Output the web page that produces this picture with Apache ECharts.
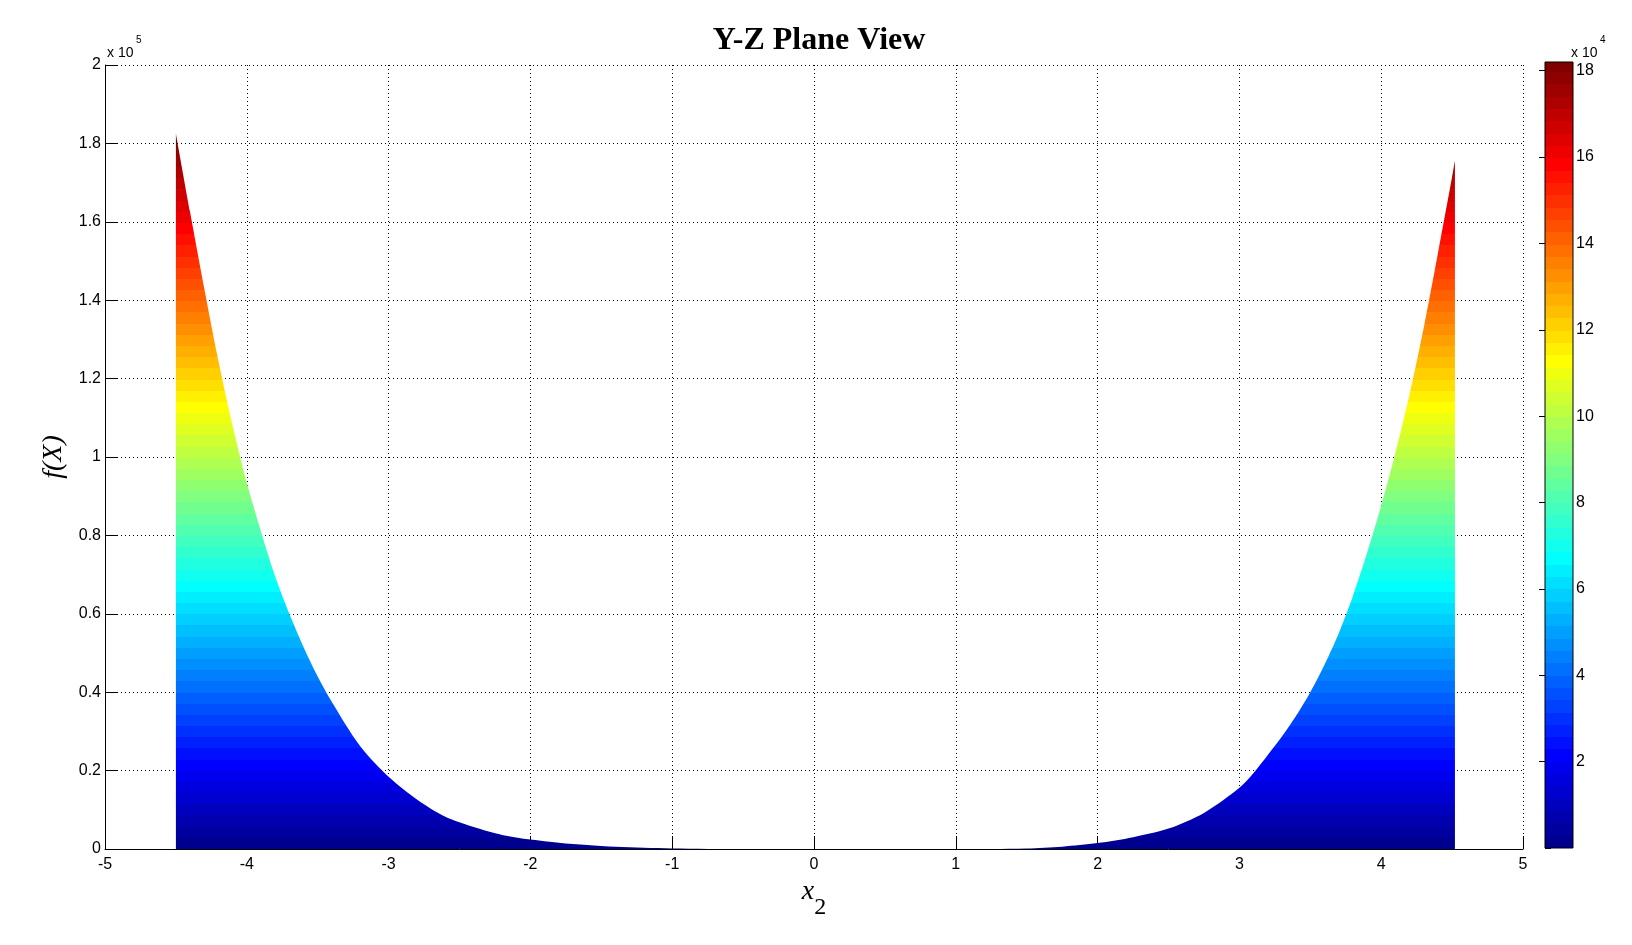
<!DOCTYPE html>
<html>
<head>
<meta charset="utf-8">
<title>Y-Z Plane View</title>
<script src="https://cdn.jsdelivr.net/npm/echarts@6/dist/echarts.min.js"></script>
<style>
  html, body { margin: 0; padding: 0; background: #fff; }
  #main { width: 1632px; height: 945px; }
</style>
</head>
<body>
<div id="main"></div>
<script>
// envelope of the surface seen edge-on (x2, f(X))
var x2 = [-4.5, -4.4, -4.3, -4.2, -4.1, -4.0, -3.9, -3.8, -3.7, -3.6,
          -3.5, -3.4, -3.2, -3.0, -2.8, -2.6, -2.4, -2.2, -2.0, -1.8,
          -1.6, -1.4, -1.2, -1.0, -0.5, 0, 0.5, 1.0,
          1.5, 1.75, 2.0, 2.25, 2.5, 2.75, 3.0, 3.1, 3.2, 3.3,
          3.4, 3.5, 3.6, 3.7, 3.8, 3.9, 4.0, 4.1, 4.2, 4.3,
          4.4, 4.5, 4.52];
var fX = [182500, 162500, 143000, 124500, 108000, 93400, 81000, 69500, 60000, 51500,
          44000, 37500, 26200, 18400, 12600, 8200, 5600, 3600, 2400, 1600,
          1000, 550, 300, 150, 0, 0, 0, 0,
          150, 600, 1500, 3000, 5200, 9200, 15600, 19400, 24000, 28700,
          34000, 40000, 47000, 55000, 64500, 75500, 87600, 101000, 116000, 133000,
          152000, 171500, 175600];

// colour axis range (MATLAB caxis) and colorbar extent
var cMin = 0;
var cMax = 182500;
var barMax = 182000;

// MATLAB jet(64) colormap
function jetColors(m) {
    var n = Math.ceil(m / 4);
    var u = [];
    var k;
    for (k = 1; k <= n; k++) u.push(k / n);
    for (k = 1; k < n; k++) u.push(1);
    for (k = n; k >= 1; k--) u.push(k / n);
    var gOff = Math.ceil(n / 2) - (m % 4 === 1 ? 1 : 0);
    var rgb = [];
    for (k = 0; k < m; k++) rgb.push([0, 0, 0]);
    for (k = 0; k < u.length; k++) {
        var g = gOff + k, r = g + n, b = g - n;
        if (g >= 0 && g < m) rgb[g][1] = u[k];
        if (r >= 0 && r < m) rgb[r][0] = u[k];
        if (b >= 0 && b < m) rgb[b][2] = u[k];
    }
    return rgb.map(function (c) {
        return 'rgb(' + c.map(function (v) { return Math.round(v * 255); }).join(',') + ')';
    });
}

var jet = jetColors(64);
var pieces = jet.map(function (c, i) {
    var w = (cMax - cMin) / jet.length;
    return { min: cMin + i * w, max: cMin + (i + 1) * w, color: c };
});

var chart = echarts.init(document.getElementById('main'));

var sans = 'Liberation Sans';
var serif = 'Liberation Serif';
var dotted = { color: '#000', width: 1, type: [1, 3] };

var option = {
    backgroundColor: '#fff',
    animation: false,
    title: {
        text: 'Y-Z Plane View',
        left: 814,
        top: 20,
        textAlign: 'center',
        textStyle: { fontFamily: serif, fontWeight: 'bold', fontSize: 32, color: '#000' }
    },
    grid: [
        { left: 105, right: 109, top: 65, bottom: 96 },
        { left: 1545, width: 28, top: 62, bottom: 97, show: true, borderColor: '#000', borderWidth: 1, z: 5 }
    ],
    visualMap: {
        type: 'piecewise',
        show: false,
        seriesIndex: [0, 1],
        dimension: 1,
        pieces: pieces,
        outOfRange: { color: jet[0] }
    },
    xAxis: [
        {
            type: 'value',
            gridIndex: 0,
            min: -5,
            max: 5,
            interval: 1,
            name: '{i|x}{s|2}',
            nameLocation: 'middle',
            nameGap: 12,
            nameTextStyle: {
                rich: {
                    i: { fontFamily: serif, fontStyle: 'italic', fontSize: 28, lineHeight: 56, color: '#000' },
                    s: { fontFamily: serif, fontSize: 24, lineHeight: 18, verticalAlign: 'bottom', color: '#000' }
                }
            },
            axisLine: { onZero: false, lineStyle: { color: '#000', width: 1 } },
            axisTick: { inside: true, length: 13, lineStyle: { color: '#000' } },
            axisLabel: { fontFamily: sans, fontSize: 16, color: '#000', margin: 8 },
            splitLine: { show: true, lineStyle: dotted }
        },
        {
            type: 'value',
            gridIndex: 1,
            min: 0,
            max: 1,
            show: false
        }
    ],
    yAxis: [
        {
            type: 'value',
            gridIndex: 0,
            min: 0,
            max: 200000,
            interval: 20000,
            name: 'f(X)',
            nameLocation: 'middle',
            nameGap: 30,
            nameTextStyle: { fontFamily: serif, fontStyle: 'italic', fontSize: 28, color: '#000' },
            axisLine: { show: true, onZero: false, lineStyle: { color: '#000', width: 1 } },
            axisTick: { show: true, inside: true, length: 13, lineStyle: { color: '#000' } },
            axisLabel: {
                fontFamily: sans, fontSize: 16, color: '#000', margin: 4,
                formatter: function (v) { return String(+(v / 1e5).toFixed(1)); }
            },
            splitLine: { show: true, lineStyle: dotted }
        },
        {
            type: 'value',
            gridIndex: 1,
            position: 'right',
            min: 0,
            max: barMax,
            interval: 20000,
            axisLine: { show: false },
            axisTick: { show: true, inside: true, length: 6, lineStyle: { color: '#000' } },
            axisLabel: {
                fontFamily: sans, fontSize: 16, color: '#000', margin: 3,
                showMinLabel: false, showMaxLabel: false,
                formatter: function (v) { return v === 0 ? '' : String(v / 1e4); }
            },
            splitLine: { show: false }
        },
        {
            type: 'value',
            gridIndex: 1,
            position: 'left',
            min: 0,
            max: barMax,
            interval: 20000,
            axisLine: { show: false },
            axisTick: { show: true, inside: true, length: 6, lineStyle: { color: '#000' } },
            axisLabel: { show: false },
            splitLine: { show: false }
        }
    ],
    graphic: [
        { type: 'text', x: 107, y: 53, style: { text: 'x 10', font: '14px ' + sans, fill: '#000', verticalAlign: 'middle' } },
        { type: 'text', x: 136, y: 40, style: { text: '5', font: '10px ' + sans, fill: '#000', verticalAlign: 'middle' } },
        { type: 'text', x: 1571, y: 53, style: { text: 'x 10', font: '14px ' + sans, fill: '#000', verticalAlign: 'middle' } },
        { type: 'text', x: 1600, y: 40, style: { text: '4', font: '10px ' + sans, fill: '#000', verticalAlign: 'middle' } }
    ],
    series: [
        {
            name: 'f(X)',
            type: 'line',
            xAxisIndex: 0,
            yAxisIndex: 0,
            data: x2.map(function (x, i) { return [x, fX[i]]; }),
            symbol: 'none',
            smooth: 0.3,
            lineStyle: { width: 0 },
            areaStyle: { opacity: 1 },
            z: 3
        },
        {
            name: 'colorbar',
            type: 'line',
            xAxisIndex: 1,
            yAxisIndex: 1,
            data: [[0, barMax], [1, barMax]],
            symbol: 'none',
            lineStyle: { width: 0 },
            areaStyle: { opacity: 1 },
            z: 3
        }
    ]
};

chart.setOption(option);

window.addEventListener('resize', function () {
    chart.resize();
});
</script>
</body>
</html>
